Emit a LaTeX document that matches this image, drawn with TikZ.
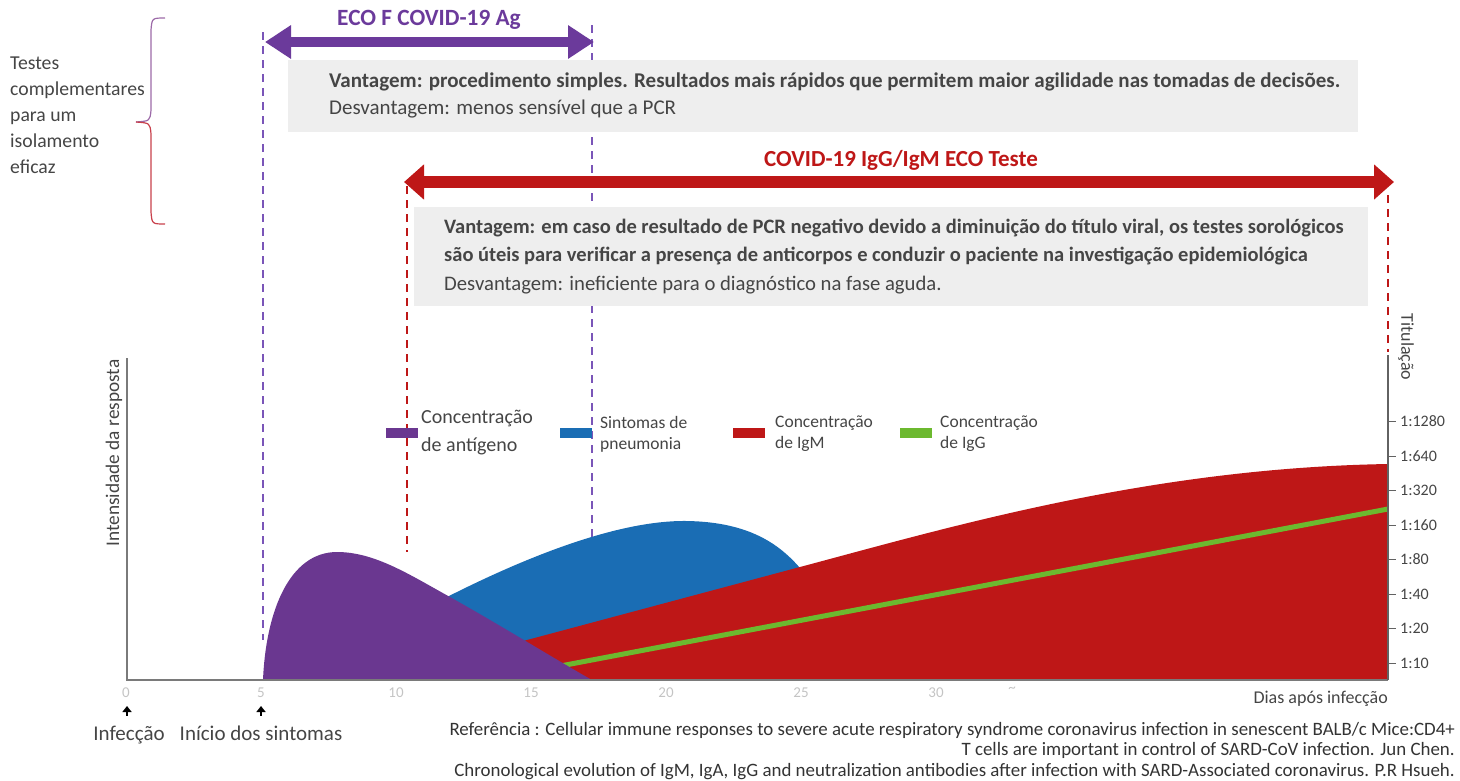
\documentclass[tikz,border=0pt]{standalone}
\usepackage{fontspec}
\setmainfont{Carlito}
\usetikzlibrary{arrows.meta}

\definecolor{agpurple}{HTML}{6A3790}
\definecolor{arrpurple}{HTML}{6B3A9B}
\definecolor{dashpurple}{HTML}{7A55B8}
\definecolor{pneublue}{HTML}{1A6DB4}
\definecolor{igmred}{HTML}{BE1717}
\definecolor{iggreen}{HTML}{6CB92F}
\definecolor{boxgray}{HTML}{EEEEEE}
\definecolor{txtgray}{HTML}{454545}
\definecolor{axisgray}{HTML}{7A7A7A}
\definecolor{tickgray}{HTML}{C4C4C4}
\definecolor{bracetop}{HTML}{9C6AA8}
\definecolor{bracebot}{HTML}{C8404C}

\begin{document}
\begin{tikzpicture}[x=1pt,y=-1pt,
  vline/.style={line width=2.2pt, dash pattern=on 8pt off 6pt},
  infobox/.style={fill=boxgray, draw=none},
  boxline/.style={anchor=base west, inner sep=0pt, text=txtgray, font=\fontsize{21}{24}\selectfont},
  sidetext/.style={anchor=base west, inner sep=0pt, text=txtgray, font=\fontsize{19.7}{24}\selectfont},
  legbar/.style={minimum width=32pt, minimum height=10pt, inner sep=0pt},
  legtext/.style={anchor=west, align=left, inner sep=0pt, text=txtgray, font=\fontsize{17.5}{21}\selectfont},
  titr/.style={anchor=base east, inner sep=0pt, text=txtgray, font=\fontsize{18}{20}\selectfont},
  dayno/.style={inner sep=0pt, text=tickgray, font=\fontsize{15}{18}\selectfont},
  reftext/.style={anchor=base east, inner sep=0pt, text=black!80, font=\fontsize{18.9}{20}\selectfont}]
\useasboundingbox (0,0) rectangle (1460,780);

%% bracket and its text
\node[sidetext] (t1) at (10,69) {Testes};
\node[sidetext] (t2) at (10,95) {complementares};
\node[sidetext] (t3) at (10,121) {para um};
\node[sidetext] (t4) at (10,147) {isolamento};
\node[sidetext] (t5) at (10,173) {eficaz};
\draw[bracetop, line width=1.2pt] (165,18) .. controls (152,18) .. (151,30) -- (151,110) .. controls (150,121) .. (136,122);
\draw[bracebot, line width=1.2pt] (136,122) .. controls (150,123) .. (151,134) -- (151,212) .. controls (152,224) .. (165,224);

%% dashed limits
\draw[vline, dashpurple] (263,32) -- (263,640);
\draw[vline, dashpurple] (592,25) -- (592,541);
\draw[vline, igmred] (407,186) -- (407,552);
\draw[vline, igmred] (1388,195) -- (1388,352);

%% antigen test
\coordinate (agL) at (265,42);
\coordinate (agR) at (594,42);
\draw[arrpurple, line width=10pt, {Triangle[length=26pt,width=32pt]}-{Triangle[length=26pt,width=32pt]}] (agL) -- (agR);
\node[text=arrpurple, font=\fontsize{23.3}{26}\selectfont\bfseries] (agtit) at (429,20) {ECO F COVID-19 Ag};
\fill[infobox] (288,60) rectangle (1358,132);
\node[boxline, font=\fontsize{21}{24}\selectfont\bfseries] (vanag) at (329,87) {Vantagem: procedimento simples. Resultados mais rápidos que permitem maior agilidade nas tomadas de decisões.};
\node[boxline] (desag) at (329,114) {Desvantagem: menos sensível que a PCR};

%% antibody test
\coordinate (abL) at (404,182);
\coordinate (abR) at (1394,182);
\draw[igmred, line width=12pt, {Triangle[length=20pt,width=34pt]}-{Triangle[length=20pt,width=34pt]}] (abL) -- (abR);
\node[text=igmred, font=\fontsize{23}{26}\selectfont\bfseries] (abtit) at (901,160) {COVID-19 IgG/IgM ECO Teste};
\fill[infobox] (414,207) rectangle (1368,306);
\node[boxline, font=\fontsize{20.5}{24}\selectfont\bfseries] (vanab1) at (444,233) {Vantagem: em caso de resultado de PCR negativo devido a diminuição do título viral, os testes sorológicos};
\node[boxline, font=\fontsize{20.5}{24}\selectfont\bfseries] (vanab2) at (444,261) {são úteis para verificar a presença de anticorpos e conduzir o paciente na investigação epidemiológica};
\node[boxline, font=\fontsize{20.7}{24}\selectfont] (desab) at (444,290) {Desvantagem: ineficiente para o diagnóstico na fase aguda.};

%% curves
\fill[pneublue] (440,680) -- (447,597) .. controls (530,555) and (620,520) .. (687,521) .. controls (750,522) and (780,545) .. (800,568) -- (815,680) -- cycle;
\fill[igmred] (500,680) -- (500,648) -- (527,640) -- (800,567) .. controls (950,527) and (1150,468) .. (1388,464) -- (1388,680) -- cycle;
\draw[iggreen, line width=5pt] (555,667) -- (1388,509);
\fill[agpurple] (263,680) .. controls (266,610) and (290,552) .. (337,552) .. controls (375,552) and (410,575) .. (450,597) .. controls (500,625) and (560,662) .. (592,680) -- cycle;
\draw[orange!70!yellow, line width=0.8pt] (178,679) -- (263,679);

%% axes
\draw[axisgray, line width=2pt] (127,358) -- (127,680) -- (1388,680);
\draw[axisgray!80!black, line width=2pt] (1388,355) -- (1388,680);
\node[rotate=90, text=txtgray, font=\fontsize{19.3}{22}\selectfont] (ylab) at (114,453) {Intensidade da resposta};
\node[rotate=-90, text=txtgray, font=\fontsize{18}{22}\selectfont] (tlab) at (1406,347) {Titulação};
\foreach \lab [count=\i from 0] in {1:10,1:20,1:40,1:80,1:160,1:320,1:640,1:1280} {
  \draw[axisgray!80!black, line width=1pt] (1388,663-34.5*\i) -- (1396,663-34.5*\i);
  \node[anchor=west, inner sep=0pt, text=txtgray, font=\fontsize{16}{20}\selectfont] (tk\i) at (1400,663-34.5*\i) {\lab};
}
\foreach \d in {0,5,...,30} {
  \node[dayno] (d\d) at (126+27*\d,693) {\d};
}
\node[dayno] (dsq) at (1012,690) {\textasciitilde};
\node[titr] (xlab) at (1388,703) {Dias após infecção};

%% events
\coordinate (inf) at (127,706);
\coordinate (sin) at (261,706);
\draw[black, line width=2pt, {Triangle[length=6pt,width=9pt]}-] (inf) -- ++(0,10);
\draw[black, line width=2pt, {Triangle[length=6pt,width=9pt]}-] (sin) -- ++(0,10);
\node[anchor=base, inner sep=0pt, text=txtgray, font=\fontsize{21}{24}\selectfont] (infl) at (129,740) {Infecção};
\node[anchor=base, inner sep=0pt, text=txtgray, font=\fontsize{21}{24}\selectfont] (sinl) at (261,740) {Início dos sintomas};

%% legend
\node[legbar, fill=agpurple] (lg1) at (402,433) {};
\node[legtext, font=\fontsize{20}{28}\selectfont] (lt1) at (421,433) {Concentração\\de antígeno};
\node[legbar, fill=pneublue] (lg2) at (576,433) {};
\node[legtext] (lt2) at (600,434) {Sintomas de\\pneumonia};
\node[legbar, fill=igmred] (lg3) at (749,433) {};
\node[legtext] (lt3) at (775,434) {Concentração\\de IgM};
\node[legbar, fill=iggreen] (lg4) at (916,433) {};
\node[legtext] (lt4) at (940,434) {Concentração\\de IgG};

%% references
\node[reftext] (ref1) at (1455,735) {Referência : Cellular immune responses to severe acute respiratory syndrome coronavirus infection in senescent BALB/c Mice:CD4+};
\node[reftext] (ref2) at (1455,755) {T cells are important in control of SARD-CoV infection. Jun Chen.};
\node[reftext] (ref3) at (1455,776) {Chronological evolution of IgM, IgA, IgG and neutralization antibodies after infection with SARD-Associated coronavirus. P.R Hsueh.};
\end{tikzpicture}
\end{document}
